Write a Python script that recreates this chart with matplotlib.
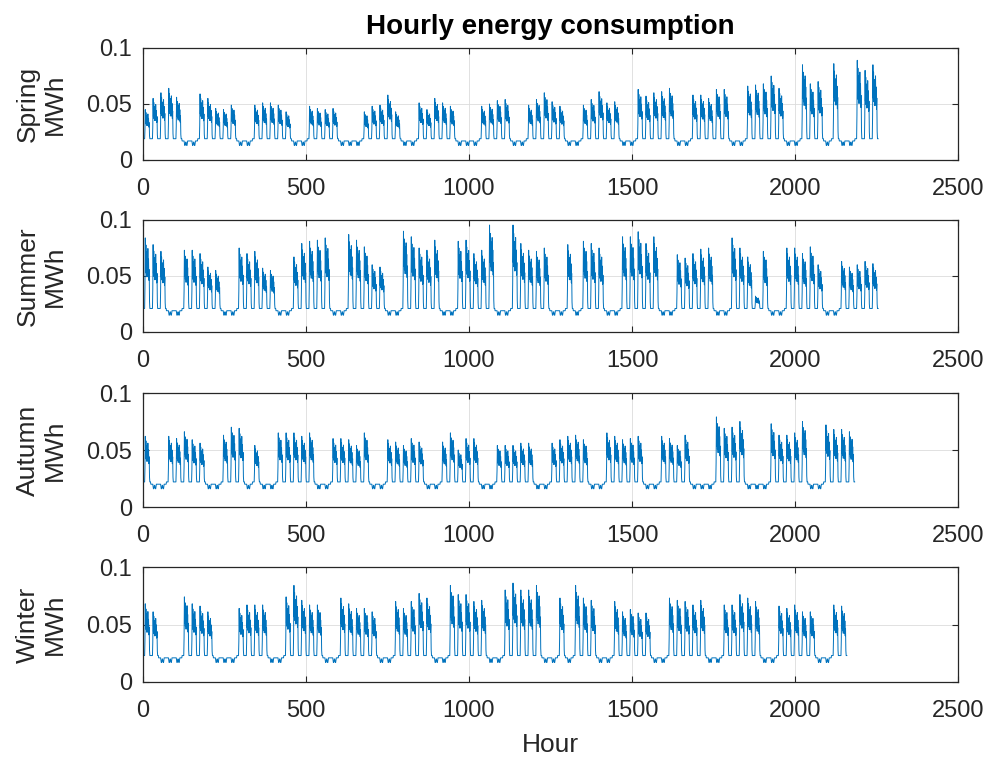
import numpy as np
import matplotlib.pyplot as plt

plt.rcParams['font.family'] = ['Liberation Sans', 'DejaVu Sans']

# ------------------------------
# 1. Daten: Tagesspitzen in MWh, 0 = Wochenende / Feiertag
# ------------------------------
seasons = ['Spring', 'Summer', 'Autumn', 'Winter']

spring_peaks = [0.045, 0.055, 0.060, 0.064, 0.056, 0, 0,
                0.059, 0.055, 0.046, 0.045, 0.049, 0, 0,
                0.049, 0.051, 0.051, 0.049, 0.043, 0, 0,
                0.048, 0.046, 0.045, 0.046, 0, 0, 0,
                0.043, 0.048, 0.049, 0.058, 0.043, 0, 0,
                0.051, 0.045, 0.055, 0.051, 0.048, 0, 0, 0,
                0.048, 0.050, 0.053, 0.054, 0, 0,
                0.049, 0.054, 0.060, 0.052, 0.048, 0, 0,
                0.049, 0.054, 0.061, 0.051, 0.052, 0, 0,
                0.063, 0.057, 0.060, 0.061, 0.064, 0, 0,
                0.058, 0.058, 0.055, 0.063, 0.063, 0, 0,
                0.066, 0.067, 0.068, 0.075, 0.064, 0, 0,
                0.085, 0.068, 0.070, 0, 0.086, 0, 0,
                0.089, 0.080, 0.085]

summer_peaks = [0.084, 0.078, 0.072, 0, 0,
                0.073, 0.073, 0.070, 0.058, 0.055, 0, 0,
                0.075, 0.070, 0.072, 0.057, 0.055, 0, 0,
                0.067, 0.079, 0.081, 0.082, 0.084, 0, 0,
                0.087, 0.082, 0.076, 0.060, 0.058, 0, 0,
                0.090, 0.085, 0.075, 0.073, 0.082, 0, 0,
                0.081, 0.082, 0.070, 0.073, 0.0955, 0, 0,
                0.0955, 0.079, 0.073, 0.072, 0.075, 0, 0,
                0.078, 0, 0.081, 0.079, 0.075, 0, 0,
                0.085, 0.085, 0.0895, 0.079, 0.085, 0, 0,
                0.069, 0.066, 0.070, 0.074, 0.075, 0, 0,
                0.084, 0.075, 0.067, 0.032, 0.072, 0, 0,
                0.075, 0.075, 0.070, 0.076, 0.060, 0, 0,
                0.063, 0.058, 0.060, 0.063, 0.061]

autumn_peaks = [0.062, 0, 0,
                0.062, 0.060, 0.066, 0.059, 0.056, 0, 0,
                0.063, 0.070, 0.069, 0, 0.054, 0, 0,
                0.065, 0.065, 0.065, 0.062, 0.065, 0, 0,
                0.060, 0.060, 0.059, 0.054, 0.065, 0, 0,
                0.059, 0.057, 0.054, 0.060, 0.057, 0, 0,
                0.057, 0.065, 0.050, 0.060, 0.060, 0, 0,
                0.054, 0.054, 0.054, 0.056, 0.056, 0, 0,
                0.056, 0.059, 0.062, 0.063, 0.059, 0, 0,
                0.065, 0.062, 0.059, 0.060, 0.062, 0, 0,
                0.062, 0.060, 0.054, 0.063, 0, 0, 0,
                0.079, 0.069, 0.070, 0.075, 0, 0, 0,
                0.073, 0.063, 0.063, 0.065, 0.075, 0, 0,
                0.072, 0.068, 0.068, 0.066]

winter_peaks = [0.068, 0.061, 0, 0, 0,
                0.074, 0.068, 0.066, 0.061, 0, 0, 0,
                0.064, 0.067, 0.067, 0.067, 0, 0,
                0.074, 0.084, 0.071, 0.067, 0.067, 0, 0,
                0.073, 0.068, 0.064, 0.064, 0.061, 0, 0,
                0.070, 0.064, 0.070, 0.077, 0.073, 0, 0,
                0.084, 0.076, 0.076, 0.070, 0.071, 0, 0,
                0.080, 0.086, 0.080, 0.080, 0.084, 0, 0,
                0.073, 0, 0.084, 0.073, 0.071, 0, 0,
                0.070, 0.061, 0.063, 0.060, 0.060, 0, 0,
                0.073, 0.071, 0.070, 0.067, 0.071, 0, 0,
                0.067, 0.067, 0.076, 0.073, 0.070, 0, 0,
                0.066, 0.064, 0.067, 0.061, 0.061, 0, 0,
                0.067, 0.066]

# Grundlast in der Nacht (MWh)
night_base = [0.019, 0.021, 0.022, 0.023]

# typischer Werktag: Anteil zwischen Grundlast und Tagesspitze (Stunde 0..23)
weekday_shape = [0, 0, 0, 0, 0, 0, 0.3, 1.0, 0.55, 0.9, 0.5, 0.8,
                 0.45, 0.75, 0.5, 0.85, 0.45, 0.7, 0.4, 0.55, 0.1, 0, 0, 0]
# Wochenende: Abweichung von der Grundlast (MWh)
weekend_offset = [-0.002, -0.002, -0.002, -0.002, -0.002, -0.002, -0.002,
                  -0.004, -0.006, -0.006, -0.005, -0.003, -0.003, -0.005,
                  -0.006, -0.006, -0.004, -0.002, -0.002, -0.002, -0.002,
                  -0.002, -0.002, -0.002]


# ------------------------------
# 2. Stundenwerte zusammensetzen
# ------------------------------
def stundenreihe(peaks, base):
    werte = []
    for p in peaks:
        if p > 0:
            werte += [base + s * (p - base) for s in weekday_shape]
        else:
            werte += [base + o for o in weekend_offset]
    return np.array(werte)


all_peaks = [spring_peaks, summer_peaks, autumn_peaks, winter_peaks]

# ------------------------------
# 3. Plot
# ------------------------------
fig = plt.figure(figsize=(9.86, 7.58), dpi=100)

tops = [48, 220, 393, 567]
bottoms = [160, 332, 507, 682]
left, right = 143, 958

axes = []
for i, name in enumerate(seasons):
    ax = fig.add_axes([left / 986, 1 - bottoms[i] / 758,
                       (right - left) / 986, (bottoms[i] - tops[i]) / 758])
    y = stundenreihe(all_peaks[i], night_base[i])
    x = np.arange(len(y))
    ax.plot(x, y, color='#0072BD', linewidth=0.7)

    ax.set_xlim(0, 2500)
    ax.set_ylim(0, 0.1)
    ax.set_xticks([0, 500, 1000, 1500, 2000, 2500])
    ax.set_yticks([0, 0.05, 0.1])
    ax.set_yticklabels(['0', '0.05', '0.1'])
    ax.grid(True, color='#dcdcdc', linewidth=0.6)
    ax.set_axisbelow(True)
    ax.tick_params(direction='in', top=True, right=True, length=4,
                   width=0.8, labelsize=17, colors='#262626')
    ax.tick_params(axis='x', pad=13)
    ax.tick_params(axis='y', pad=8)
    for s in ax.spines.values():
        s.set_color('#262626')
        s.set_linewidth(0.9)
    ax.set_ylabel(name + '\nMWh', fontsize=19, color='#262626',
                  linespacing=1.15, labelpad=14)
    axes.append(ax)

axes[0].set_title('Hourly energy consumption', fontsize=20,
                  fontweight='bold', pad=10)
axes[-1].set_xlabel('Hour', fontsize=19, color='#262626', labelpad=8)

fig.savefig('out.png', dpi=100)
